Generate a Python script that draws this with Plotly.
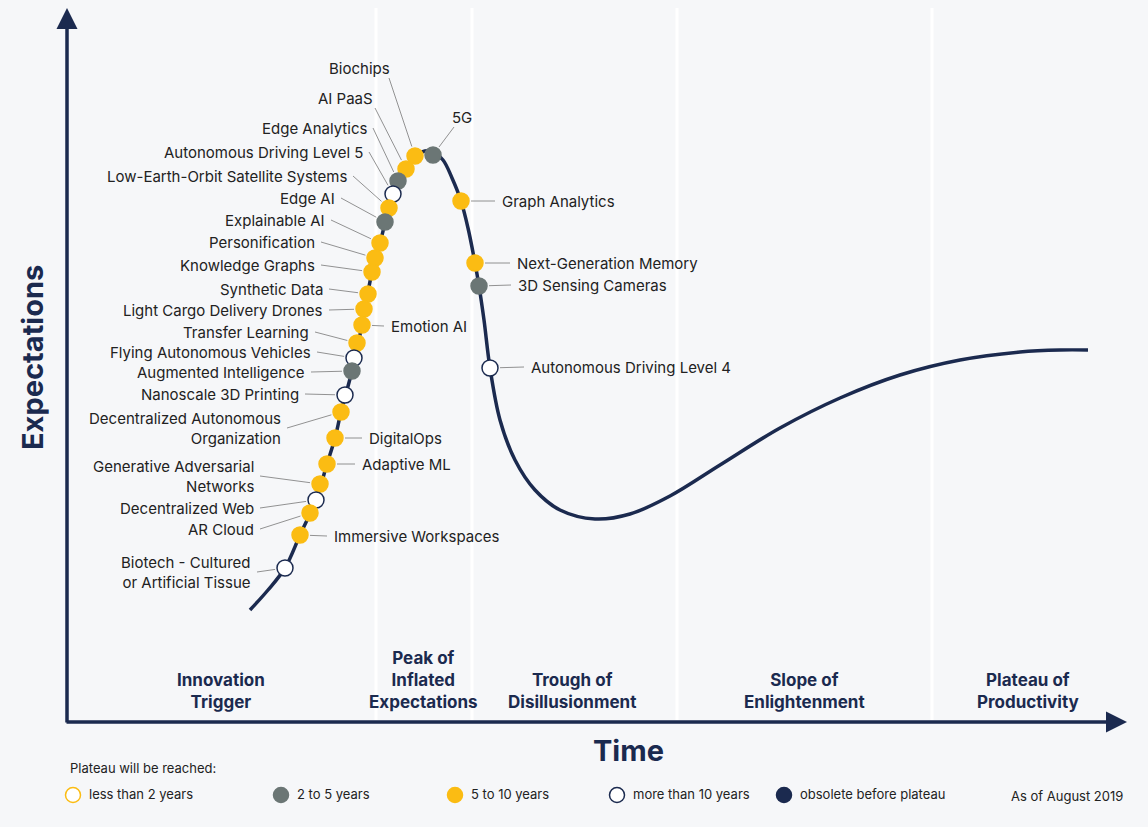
import plotly.graph_objects as go

NAVY = "#1b2a4f"
YEL = "#fbbc13"
GRAY = "#6b7675"
BG = "#f6f7f9"
FONT = "Inter"

# hype curve (screen pixel coords)
curve_x = [250, 268, 285, 300, 316, 327, 335, 341, 352, 362, 372, 380, 389, 398, 406, 415, 425, 433, 443, 452, 461, 468, 475, 479, 484, 490, 500, 515, 535, 560, 595, 630, 670, 720, 780, 840, 900, 960, 1020, 1060, 1088]
curve_y = [610, 590, 568, 535, 500, 464, 438, 412, 371, 325, 272, 243, 208, 181, 169, 157, 151, 152, 160, 178, 201, 228, 263, 286, 320, 368, 420, 460, 490, 510, 519, 514, 496, 465, 428, 398, 375, 360, 352, 350, 350]

# technologies
names = ["Biochips", "AI PaaS", "5G", "Edge Analytics", "Autonomous Driving Level 5",
         "Low-Earth-Orbit Satellite Systems", "Edge AI", "Explainable AI", "Personification",
         "Knowledge Graphs", "Synthetic Data", "Light Cargo Delivery Drones", "Emotion AI",
         "Transfer Learning", "Flying Autonomous Vehicles", "Augmented Intelligence",
         "Nanoscale 3D Printing", "Decentralized Autonomous<br>Organization", "DigitalOps",
         "Adaptive ML", "Generative Adversarial<br>Networks", "Decentralized Web", "AR Cloud",
         "Immersive Workspaces", "Biotech - Cultured<br>or Artificial Tissue",
         "Graph Analytics", "Next-Generation Memory", "3D Sensing Cameras", "Autonomous Driving Level 4"]
pt_x = [415, 406, 433, 398, 393, 389, 385, 380, 375, 372, 368, 364, 362, 357, 354, 352, 345, 341, 335, 327, 320, 316, 310, 300, 285, 461, 475, 479, 490]
pt_y = [156, 169, 155, 181, 194, 208, 222, 243, 258, 272, 294, 309, 325, 343, 358, 371, 395, 412, 438, 464, 484, 500, 513, 535, 568, 201, 263, 286, 368]
status = ["5-10", "5-10", "2-5", "2-5", "10+", "5-10", "2-5", "5-10", "5-10", "5-10", "5-10", "5-10", "5-10",
          "5-10", "10+", "2-5", "10+", "5-10", "5-10", "5-10", "5-10", "10+", "5-10", "5-10", "10+",
          "5-10", "5-10", "2-5", "10+"]
lab_x = [359, 345, 462, 369, 365, 349, 337, 327, 317, 317, 325, 325, 389, 311, 313, 307, 301, 283, 367, 360, 256, 256, 256, 332, 253, 500, 515, 516, 529]
lab_y = [68, 98, 117, 128, 152, 176, 198, 220, 242, 265, 289, 310, 326, 332, 352, 372, 394, 428, 438, 464, 476, 508, 529, 536, 572, 201, 263, 285, 367]
lab_anchor = ["center", "center", "center", "right", "right", "right", "right", "right", "right", "right",
              "right", "right", "left", "right", "right", "right", "right", "right", "left", "left",
              "right", "right", "right", "left", "right", "left", "left", "left", "left"]

phases = ["Innovation<br>Trigger", "Peak of<br>Inflated<br>Expectations", "Trough of<br>Disillusionment",
          "Slope of<br>Enlightenment", "Plateau of<br>Productivity"]
phase_x = [221, 423, 572, 804, 1028]
sep_x = [376, 472, 677, 932]

legend_labels = ["less than 2 years", "2 to 5 years", "5 to 10 years", "more than 10 years", "obsolete before plateau"]
legend_keys = ["<2", "2-5", "5-10", "10+", "obs"]
legend_x = [73, 281, 455, 617, 784]

fill = {"<2": "white", "2-5": GRAY, "5-10": YEL, "10+": "white", "obs": NAVY}
edge = {"<2": YEL, "2-5": GRAY, "5-10": YEL, "10+": NAVY, "obs": NAVY}

fig = go.Figure()
for sx in sep_x:
    fig.add_shape(type="line", x0=sx, x1=sx, y0=8, y1=720, line=dict(color="white", width=3), layer="below")

fig.add_trace(go.Scatter(x=curve_x, y=curve_y, mode="lines", line=dict(color=NAVY, width=3.5, shape="spline", smoothing=1.0),
                         hoverinfo="skip", showlegend=False))

# leader lines
lx, ly = [], []
for px, py, tx, ty, an in zip(pt_x, pt_y, lab_x, lab_y, lab_anchor):
    if an == "right":
        sx_, sy_ = tx + 4, ty
    elif an == "left":
        sx_, sy_ = tx - 5, ty
    else:
        sx_, sy_ = tx + (30 if tx < px else -8), ty + 10
    dx, dy = px - sx_, py - sy_
    d = (dx * dx + dy * dy) ** 0.5 or 1
    lx += [sx_, px - dx / d * 10, None]
    ly += [sy_, py - dy / d * 10, None]
fig.add_trace(go.Scatter(x=lx, y=ly, mode="lines", line=dict(color="#777", width=0.8), hoverinfo="skip", showlegend=False))

fig.add_trace(go.Scatter(x=pt_x, y=pt_y, mode="markers",
                         marker=dict(size=16, color=[fill[s] for s in status],
                                     line=dict(color=[edge[s] for s in status], width=1.5)),
                         hoverinfo="text", text=names, showlegend=False))

for n, tx, ty, an in zip(names, lab_x, lab_y, lab_anchor):
    fig.add_annotation(x=tx, y=ty, text=n, showarrow=False, xanchor=an, yanchor="middle",
                       align="right" if an == "right" else ("center" if an == "center" else "left"),
                       font=dict(size=15, color="#222", family=FONT))

for p, px in zip(phases, phase_x):
    fig.add_annotation(x=px, y=714, text="<b>" + p + "</b>", showarrow=False, xanchor="center", yanchor="bottom",
                       font=dict(size=17, color=NAVY, family=FONT))

# axes with arrows
fig.add_annotation(x=67, y=8, ax=67, ay=724, xref="x", yref="y", axref="x", ayref="y", showarrow=True,
                   arrowhead=2, arrowsize=1.2, arrowwidth=3.5, arrowcolor=NAVY, text="")
fig.add_annotation(x=1127, y=722, ax=65, ay=722, xref="x", yref="y", axref="x", ayref="y", showarrow=True,
                   arrowhead=2, arrowsize=1.2, arrowwidth=3.5, arrowcolor=NAVY, text="")
fig.add_annotation(x=628, y=750, text="<b>Time</b>", showarrow=False, font=dict(size=29, color=NAVY, family=FONT))
fig.add_annotation(x=32, y=358, text="<b>Expectations</b>", textangle=-90, showarrow=False,
                   font=dict(size=29, color=NAVY, family=FONT))

fig.add_annotation(x=68, y=768, text="Plateau will be reached:", showarrow=False, xanchor="left",
                   font=dict(size=13, color="#222", family=FONT))
fig.add_trace(go.Scatter(x=legend_x, y=[795] * 5, mode="markers",
                         marker=dict(size=15, color=[fill[k] for k in legend_keys],
                                     line=dict(color=[edge[k] for k in legend_keys], width=1.5)),
                         hoverinfo="skip", showlegend=False))
for t, x in zip(legend_labels, legend_x):
    fig.add_annotation(x=x + 14, y=794, text=t, showarrow=False, xanchor="left",
                       font=dict(size=13, color="#222", family=FONT))
fig.add_annotation(x=1125, y=796, text="As of August 2019", showarrow=False, xanchor="right",
                   font=dict(size=13, color="#222", family=FONT))

# the page has an 8px body margin: shrink the figure and shift ranges so coordinates equal screen pixels
fig.update_layout(width=1132, height=811, margin=dict(l=0, r=0, t=0, b=0),
                  paper_bgcolor=BG, plot_bgcolor=BG,
                  xaxis=dict(range=[8, 1140], visible=False, fixedrange=True),
                  yaxis=dict(range=[819, 8], visible=False, fixedrange=True))
fig.write_html("out.html", post_script="document.body.style.background='%s';" % BG)
